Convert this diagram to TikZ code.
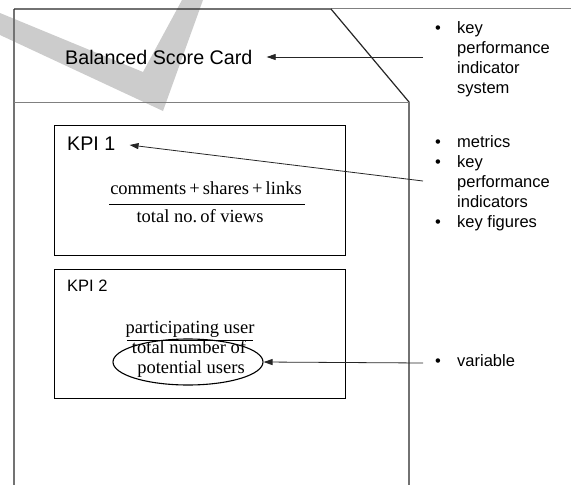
\documentclass[tikz,border=0pt]{standalone}
\usepackage{fontspec}
\setmainfont{Liberation Sans}
\newfontfamily\serifface{Liberation Serif}
\usetikzlibrary{arrows.meta,shapes.geometric}
\begin{document}
\begin{tikzpicture}[x=1pt,y=-1pt,
  frame/.style={line width=1.2pt, draw=black!85},
  graybar/.style={line width=1pt, draw=black!50},
  kpibox/.style={draw, line width=1.1pt, minimum width=291pt, anchor=north west, inner sep=0pt},
  arr/.style={line width=0.8pt, draw=black!85, -{Triangle[length=9pt,width=6pt]}},
  big/.style={font=\fontsize{19.7}{23}\selectfont, inner sep=0pt},
  small/.style={font=\fontsize{16.5}{20}\selectfont, inner sep=0pt},
  fracf/.style={font=\serifface\fontsize{18.5}{20}\selectfont, inner sep=0pt, anchor=base},
  bullets/.style={font=\fontsize{16.5}{20}\selectfont, inner sep=0pt, anchor=base west}]

\useasboundingbox (0,0) rectangle (571,485);
% watermark
\fill[black!20] (0,13) -- (143,72) -- (182,0) -- (203,0) -- (163,111) -- (0,35) -- cycle;

% outer card
\draw[graybar] (331,8) -- (571,8);
\draw[black!55, line width=1.6pt] (14,9) -- (14,485);
\draw[frame] (14,9) -- (331,9) -- (409,102) -- (409,485);
\draw[graybar] (14,102) -- (409,102);

% title
\node[big, anchor=west] (bsc) at (65,57) {Balanced Score Card};

% KPI 1
\node[kpibox, minimum height=130pt] (k1) at (54,125) {};
\node[big, anchor=west] (k1l) at (67,144) {KPI 1};
\node[fracf] (n1) at (206,194) {comments\,+\,shares\,+\,links};
\draw[line width=0.8pt] (109,204) -- (305,204);
\node[fracf] (d1) at (200,222) {total no.\,of views};

% KPI 2
\node[kpibox, minimum height=129pt] (k2) at (54,269) {};
\node[small, anchor=west] (k2l) at (67,286) {KPI 2};
\node[fracf] (n2) at (190,333) {participating user};
\draw[line width=0.8pt] (127,340) -- (253,340);
\node[fracf, align=center, anchor=base] (d2a) at (189,353) {total number of};
\node[fracf, anchor=base] (d2b) at (191,373) {potential users};
\node[ellipse, draw, line width=1.1pt, minimum width=150pt, minimum height=46pt, inner sep=0pt] (ell) at (188,362) {};

% right-hand labels
\node[bullets] (b1) at (435,33) {\begin{tabular}[t]{@{}p{22pt}@{}l@{}}•&key\\&performance\\&indicator\\&system\end{tabular}};
\node[bullets] (b2) at (435,147) {\begin{tabular}[t]{@{}p{22pt}@{}l@{}}•&metrics\\•&key\\&performance\\&indicators\\•&key figures\end{tabular}};
\node[bullets] (b3) at (435,366) {\begin{tabular}[t]{@{}p{22pt}@{}l@{}}•&variable\end{tabular}};

% connectors
\coordinate (c1) at (423,57);
\coordinate (c2) at (423,181);
\coordinate (c3) at (423,363);
\draw[arr] (c1) -- ([xshift=14pt]bsc.east);
\draw[arr] (c2) -- ([xshift=14pt,yshift=-1pt]k1l.east);
\draw[arr] (c3) -- (ell.east);
\end{tikzpicture}
\end{document}
